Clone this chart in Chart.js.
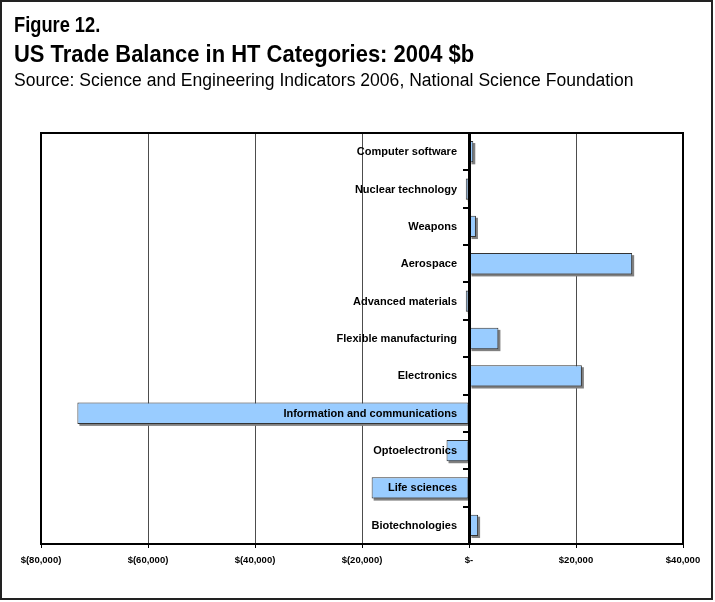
<!DOCTYPE html>
<html>
<head>
<meta charset="utf-8">
<script src="https://cdn.jsdelivr.net/npm/chart.js@4/dist/chart.umd.min.js"></script>
<style>
  html, body { margin: 0; padding: 0; background: #fff; overflow: hidden; }
  #wrap { position: relative; width: 715px; height: 602px; }
  #frame { position: absolute; left: 0; top: 0; width: 713px; height: 600px; box-sizing: border-box; border: 2px solid #222; }
  canvas { position: absolute; left: 0; top: 0; }
  .hd { position: absolute; left: 14px; white-space: nowrap; color: #000; font-family: "Liberation Sans Narrow", "Arial Narrow", "Liberation Sans", Arial, sans-serif; transform-origin: 0 0; }
  #fig { top: 14px; font-size: 22px; line-height: 22px; font-weight: bold; transform: scaleX(0.83); }
  #ttl { top: 41.8px; font-size: 24px; line-height: 24px; font-weight: bold; transform: scaleX(0.915); }
  #src { top: 70.5px; font-size: 18px; line-height: 18px; transform: scaleX(0.975); }
</style>
</head>
<body>
<div id="wrap">
  <div id="frame"></div>
  <canvas id="c" width="715" height="602"></canvas>
  <div class="hd" id="fig">Figure 12.</div>
  <div class="hd" id="ttl">US Trade Balance in HT Categories: 2004 $b</div>
  <div class="hd" id="src">Source: Science and Engineering Indicators 2006, National Science Foundation</div>
</div>
<script>
// High-technology categories, top to bottom
const categories = [
  'Computer software',
  'Nuclear technology',
  'Weapons',
  'Aerospace',
  'Advanced materials',
  'Flexible manufacturing',
  'Electronics',
  'Information and communications',
  'Optoelectronics',
  'Life sciences',
  'Biotechnologies'
];

// Trade balance, millions of dollars
const balance = [800, -600, 1300, 30500, -600, 5500, 21100, -73200, -4200, -18200, 1700];

// Value axis ticks and their labels
const xTickValues = [-80000, -60000, -40000, -20000, 0, 20000, 40000];
const xTickLabels = ['$(80,000)', '$(60,000)', '$(40,000)', '$(20,000)', '$-', '$20,000', '$40,000'];

// Drop shadow behind each bar, offset down and to the right
const barShadow = {
  id: 'barShadow',
  beforeDatasetsDraw(chart) {
    const ctx = chart.ctx;
    ctx.save();
    ctx.fillStyle = '#808080';
    chart.getDatasetMeta(0).data.forEach(el => {
      const p = el.getProps(['x', 'y', 'base', 'height'], true);
      const l = Math.min(p.x, p.base), r = Math.max(p.x, p.base);
      ctx.fillRect(l + 2, p.y - p.height / 2 + 2, r - l, p.height);
    });
    ctx.restore();
  }
};

// Plot-area frame
const plotFrame = {
  id: 'plotFrame',
  beforeDatasetsDraw(chart) {
    const {ctx, chartArea: a} = chart;
    ctx.save();
    ctx.strokeStyle = '#000';
    ctx.lineWidth = 2;
    ctx.strokeRect(a.left, a.top, a.right - a.left, a.bottom - a.top);
    ctx.restore();
  }
};

// Category names written just left of the zero line, over the bars
const categoryLabels = {
  id: 'categoryLabels',
  afterDraw(chart) {
    const ctx = chart.ctx;
    const xs = chart.scales.x, ys = chart.scales.y;
    const x0 = xs.getPixelForValue(0) - 12;
    ctx.save();
    ctx.font = 'bold 11px "Liberation Sans", Arial, sans-serif';
    ctx.fillStyle = '#000';
    ctx.textAlign = 'right';
    ctx.textBaseline = 'middle';
    categories.forEach((c, i) => ctx.fillText(c, x0, ys.getPixelForValue(i) + 0.5));
    ctx.restore();
  }
};

new Chart(document.getElementById('c'), {
  type: 'bar',
  data: {
    labels: categories,
    datasets: [{
      data: balance,
      backgroundColor: '#99ccff',
      borderColor: '#333333',
      borderWidth: 1,
      borderSkipped: false,
      barPercentage: 0.57,
      categoryPercentage: 1.0
    }]
  },
  options: {
    indexAxis: 'y',
    responsive: false,
    animation: false,
    devicePixelRatio: 1,
    layout: { padding: { left: 41, right: 32, top: 133, bottom: 28 } },
    plugins: { legend: { display: false }, tooltip: { enabled: false } },
    scales: {
      x: {
        type: 'linear',
        min: xTickValues[0],
        max: xTickValues[xTickValues.length - 1],
        afterBuildTicks(scale) { scale.ticks = xTickValues.map(v => ({ value: v })); },
        afterFit(scale) { scale.height = 30; },
        grid: { color: '#4d4d4d', lineWidth: 1, tickColor: '#000', tickLength: 4 },
        border: { color: '#000', width: 2 },
        ticks: {
          padding: 7,
          color: '#000',
          maxRotation: 0,
          font: { family: '"Liberation Sans", Arial, sans-serif', size: 9.5, weight: 'bold' },
          callback: (v, i) => xTickLabels[i]
        }
      },
      y: {
        position: { x: 0 },
        grid: { drawOnChartArea: false, drawTicks: true, tickLength: 5, tickColor: '#000', lineWidth: 2, z: 1 },
        border: { color: '#000', width: 3, z: 1 },
        ticks: { display: false }
      }
    }
  },
  plugins: [plotFrame, barShadow, categoryLabels]
});
</script>
</body>
</html>
